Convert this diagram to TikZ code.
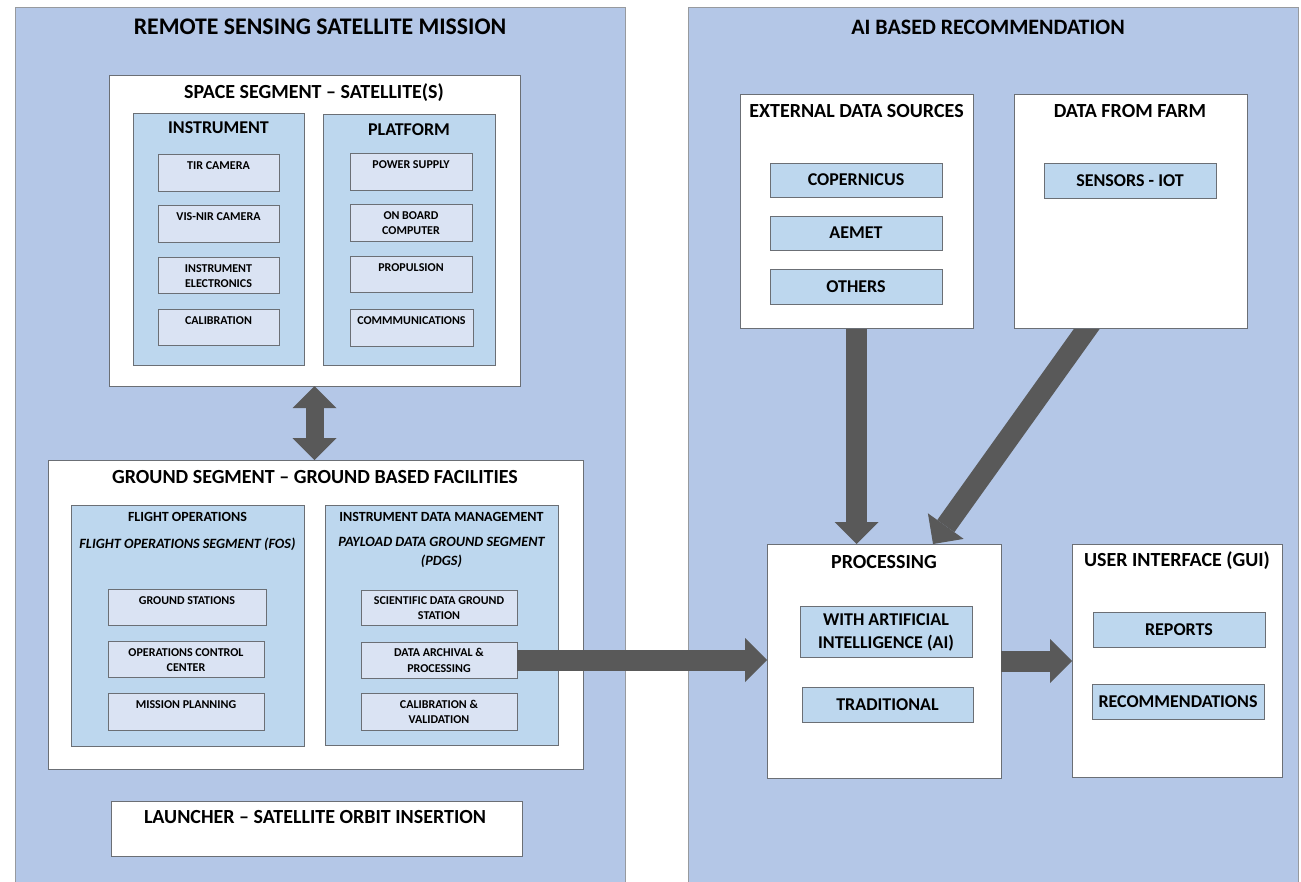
\documentclass[tikz,border=0pt]{standalone}
\usepackage{fontspec}
\setmainfont{Carlito}
\usetikzlibrary{arrows.meta,calc}
\pgfdeclarelayer{bg}
\pgfdeclarelayer{mid}
\pgfsetlayers{bg,mid,main}

\definecolor{panelblue}{HTML}{B4C7E7}
\definecolor{groupblue}{HTML}{BDD7EE}
\definecolor{itemlav}{HTML}{DAE3F3}
\definecolor{itemblue}{HTML}{BDD7EE}
\definecolor{edgegray}{HTML}{6B6F75}
\definecolor{arrowgray}{HTML}{595959}

\tikzset{
  panel/.style={draw=edgegray!70, fill=panelblue, line width=1pt},
  whitebox/.style={draw=edgegray, fill=white, line width=1pt},
  groupbox/.style={draw=edgegray, fill=groupblue, line width=0.8pt},
  lavbox/.style={draw=edgegray, fill=itemlav, line width=0.8pt},
  bluebox/.style={draw=edgegray, fill=itemblue, line width=0.8pt},
  paneltitle/.style={font=\fontsize{22}{26}\selectfont\bfseries, inner sep=0pt},
  segtitle/.style={font=\fontsize{20}{24}\selectfont\bfseries, inner sep=0pt},
  grouptitle/.style={font=\fontsize{18}{22}\selectfont\bfseries, inner sep=0pt},
  itemtext/.style={font=\fontsize{18}{23}\selectfont\bfseries, align=center, inner sep=0pt},
  smalltext/.style={font=\fontsize{12}{15.5}\selectfont\bfseries, align=center, inner sep=0pt},
  opshead/.style={font=\fontsize{14}{19}\selectfont\bfseries, align=center, inner sep=0pt},
  opsital/.style={font=\fontsize{14.2}{19}\selectfont\bfseries\itshape, align=center, inner sep=0pt},
  fatarrow/.style={draw=arrowgray, line width=21pt,
    -{Triangle[width=44pt,length=22pt,line width=0pt]}},
  fatdouble/.style={draw=arrowgray, line width=18pt,
    {Triangle[width=44pt,length=22pt,line width=0pt]}-{Triangle[width=44pt,length=22pt,line width=0pt]}},
}

% box: name, style, left, top, right, bottom (pixel-like units, y downwards)
\newcommand\mkbox[6]{%
  \node[#2, anchor=north west, inner sep=0pt, outer sep=0pt,
        minimum width={(#5)-(#3)}, minimum height={(#6)-(#4)}] (#1) at (#3,#4) {};}
% text: name, style, x, y, text
\newcommand\mktext[5]{\node[#2] (#1) at (#3,#4) {#5};}

\begin{document}
\begin{tikzpicture}[x=1pt,y=-1pt]
\useasboundingbox (0,0) rectangle (1301,881);

\begin{pgfonlayer}{bg}
  \fill[white] (0,0) rectangle (1301,881);
  \mkbox{leftpanel}{panel}{15}{7}{625}{895}
  \mkbox{rightpanel}{panel}{688}{7}{1298}{895}
\end{pgfonlayer}

\mktext{lefttitle}{paneltitle, font=\fontsize{23.8}{28}\selectfont\bfseries}{320}{27}{REMOTE SENSING SATELLITE MISSION}
\mktext{righttitle}{paneltitle}{988}{27}{AI BASED RECOMMENDATION}

% ---------- space segment ----------
\mkbox{space}{whitebox}{109}{75}{520}{386}
\mktext{space-t}{segtitle}{314}{93}{SPACE SEGMENT – SATELLITE(S)}

\mkbox{instr}{groupbox}{133}{113}{304}{365}
\mktext{instr-t}{grouptitle}{218.5}{128}{INSTRUMENT}
\mkbox{tir}{lavbox}{158}{154}{279}{191}
\mktext{tir-t}{smalltext}{218.5}{166}{TIR CAMERA}
\mkbox{visnir}{lavbox}{158}{205}{279}{242}
\mktext{visnir-t}{smalltext}{218.5}{217}{VIS-NIR CAMERA}
\mkbox{ielec}{lavbox}{158}{257}{279}{293}
\mktext{ielec-t}{smalltext}{218.5}{276}{INSTRUMENT\\ELECTRONICS}
\mkbox{calib}{lavbox}{158}{309}{279}{345}
\mktext{calib-t}{smalltext}{218.5}{321}{CALIBRATION}

\mkbox{platf}{groupbox}{323}{114}{495}{365}
\mktext{platf-t}{grouptitle}{409}{130}{PLATFORM}
\mkbox{power}{lavbox}{350}{153}{472}{190}
\mktext{power-t}{smalltext}{411}{165}{POWER SUPPLY}
\mkbox{obc}{lavbox}{350}{204}{472}{241}
\mktext{obc-t}{smalltext}{411}{223}{ON BOARD\\COMPUTER}
\mkbox{prop}{lavbox}{350}{256}{472}{292}
\mktext{prop-t}{smalltext}{411}{268}{PROPULSION}
\mkbox{comm}{lavbox}{350}{309}{473}{346}
\mktext{comm-t}{smalltext}{411.5}{321}{COMMMUNICATIONS}

% ---------- ground segment ----------
\mkbox{ground}{whitebox}{48}{460}{583}{769}
\mktext{ground-t}{segtitle}{315}{477}{GROUND SEGMENT – GROUND BASED FACILITIES}

\mkbox{fos}{groupbox}{71}{505}{304}{746}
\mktext{fos-h}{opshead}{187.5}{517}{FLIGHT OPERATIONS}
\mktext{fos-i}{opsital}{187.5}{544}{FLIGHT OPERATIONS SEGMENT (FOS)}
\mkbox{gst}{lavbox}{108}{589}{266}{625}
\mktext{gst-t}{smalltext}{187}{601}{GROUND STATIONS}
\mkbox{occ}{lavbox}{108}{641}{264}{677}
\mktext{occ-t}{smalltext}{186}{660}{OPERATIONS CONTROL\\CENTER}
\mkbox{mplan}{lavbox}{108}{693}{264}{730}
\mktext{mplan-t}{smalltext}{186}{705}{MISSION PLANNING}

\mkbox{pdgs}{groupbox}{325}{505}{558}{745}
\mktext{pdgs-h}{opshead}{441.5}{517}{INSTRUMENT DATA MANAGEMENT}
\mktext{pdgs-i}{opsital}{441.5}{552.5}{PAYLOAD DATA GROUND SEGMENT\\(PDGS)}
\mkbox{sdgs}{lavbox}{361}{590}{517}{625}
\mktext{sdgs-t}{smalltext}{439}{608}{SCIENTIFIC DATA GROUND\\STATION}
\mkbox{dap}{lavbox}{361}{642}{517}{678}
\mktext{dap-t}{smalltext}{439}{660.5}{DATA ARCHIVAL \&\\PROCESSING}
\mkbox{calval}{lavbox}{361}{693}{517}{730}
\mktext{calval-t}{smalltext}{439}{712}{CALIBRATION \&\\VALIDATION}

% ---------- launcher ----------
\mkbox{launch}{whitebox}{111}{801}{522}{856}
\mktext{launch-t}{segtitle}{315}{817}{LAUNCHER – SATELLITE ORBIT INSERTION}

% ---------- data sources ----------
\mkbox{eds}{whitebox}{740}{94}{973}{328}
\mktext{eds-t}{segtitle}{856.5}{111}{EXTERNAL DATA SOURCES}
\mkbox{copern}{bluebox}{770}{163}{942}{197}
\mktext{copern-t}{itemtext}{856}{180}{COPERNICUS}
\mkbox{aemet}{bluebox}{770}{216}{942}{250}
\mktext{aemet-t}{itemtext}{856}{233}{AEMET}
\mkbox{others}{bluebox}{770}{269}{942}{304}
\mktext{others-t}{itemtext}{856}{286.5}{OTHERS}

\mkbox{dff}{whitebox}{1014}{94}{1247}{328}
\mktext{dff-t}{segtitle}{1130}{111}{DATA FROM FARM}
\mkbox{sensors}{bluebox}{1044}{163}{1216}{198}
\mktext{sensors-t}{itemtext}{1130}{180.5}{SENSORS - IOT}

% ---------- processing and interface ----------
\mkbox{proc}{whitebox}{767}{544}{1001}{778}
\mktext{proc-t}{segtitle}{884}{562}{PROCESSING}
\mkbox{wai}{bluebox}{800}{606}{972}{657}
\mktext{wai-t}{itemtext}{886}{632}{WITH ARTIFICIAL\\INTELLIGENCE (AI)}
\mkbox{trad}{bluebox}{802}{687}{973}{722}
\mktext{trad-t}{itemtext}{887.5}{704.5}{TRADITIONAL}

\mkbox{gui}{whitebox}{1072}{544}{1282}{777}
\mktext{gui-t}{segtitle}{1177}{561}{USER INTERFACE (GUI)}
\mkbox{reports}{bluebox}{1093}{612}{1265}{647}
\mktext{reports-t}{itemtext}{1179}{629.5}{REPORTS}
\mkbox{recomm}{bluebox}{1092}{684}{1264}{719}
\mktext{recomm-t}{itemtext}{1178}{701.5}{RECOMMENDATIONS}

% ---------- connectors ----------
\draw[fatdouble] (space.south) -- (space.south |- ground.north);
\draw[fatarrow] (dap.east) -- (dap.east -| proc.west);
\draw[fatarrow] (proc.east) -- (proc.east -| gui.west);

\begin{pgfonlayer}{mid}
  \draw[fatarrow] (eds.south) -- (eds.south |- proc.north);
  \draw[fatarrow] ($(dff.south west)+(82,-12)$) -- ($(proc.north west)+(166,0)$);
\end{pgfonlayer}
\end{tikzpicture}
\end{document}
